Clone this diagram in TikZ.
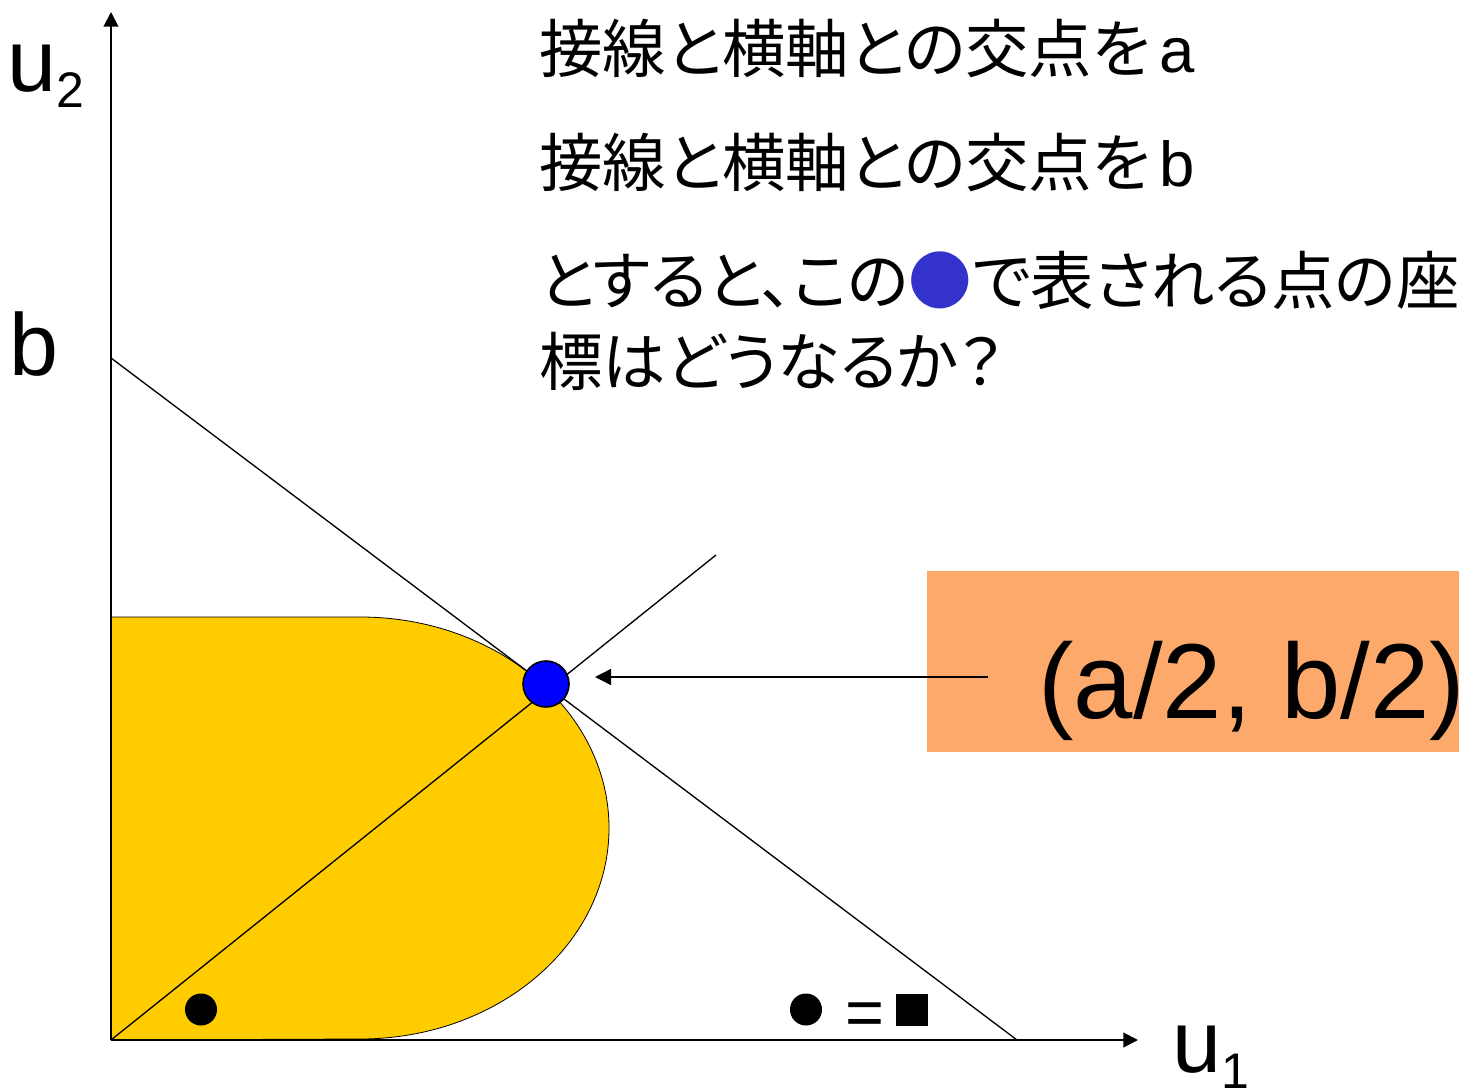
\documentclass[tikz,border=0pt]{standalone}
\usepackage{fontspec}
\setmainfont{Liberation Sans}
\newfontfamily\cjk[RawFeature=+palt]{Noto Sans CJK JP}
\usetikzlibrary{arrows.meta}
\definecolor{goldfill}{HTML}{FFCC00}
\definecolor{orangebox}{HTML}{FDA96C}
\definecolor{dotblue}{HTML}{0000FF}
\definecolor{textblue}{HTML}{3333CC}
\begin{document}
\begin{tikzpicture}[x=0.75pt,y=0.75pt,
  axis/.style={line width=1.5pt,-{Triangle[length=11pt,width=11pt]}},
  thinline/.style={line width=1pt},
  jp/.style={font=\cjk\fontsize{47.6pt}{58pt}\selectfont, inner sep=0pt, anchor=west},
  biglabel/.style={font=\fontsize{66pt}{70pt}\selectfont, inner sep=0pt, anchor=base west},
  blackdot/.style={circle, fill=black, minimum size=24pt, inner sep=0pt},
]
\useasboundingbox (0,0) rectangle (1459,1090);
% key points
\coordinate (O) at (111,50);
\coordinate (ytop) at (111,1078);
\coordinate (xend) at (1138,50);
\coordinate (tb) at (111,732);
\coordinate (ta) at (1017,50);
\coordinate (dend) at (716,535);
% feasible region
\filldraw[fill=goldfill, draw=black, line width=0.6pt]
  (111,50) -- (111,473) -- (360,473)
  arc[start angle=90, end angle=-90, x radius=249, y radius=211] -- cycle;
% axes
\draw[axis] (O) -- (ytop);
\draw[axis] (O) -- (xend);
% tangent line and diagonal
\draw[thinline] (tb) -- (ta);
\draw[thinline] (O) -- (dend);
% point
\node[circle, fill=dotblue, draw=black, line width=1.2pt, minimum size=34.5pt, inner sep=0pt] (P) at (546,406) {};
% orange box
\node[fill=orangebox, minimum width=399pt, minimum height=135.75pt, anchor=south west, inner sep=0pt] (box) at (927,338) {};
\node[anchor=base west, inner sep=0pt, font=\fontsize{80pt}{90pt}\selectfont] (coord) at (1038,372) {(a/2, b/2)};
% arrow
\coordinate (arrS) at (988,413);
\coordinate (arrT) at (595,413);
\draw[line width=1.1pt, -{Triangle[length=12pt,width=12pt]}] (arrS) -- (arrT);
% axis labels
\node[biglabel] (u2) at (7,998) {u\raisebox{-12pt}{\fontsize{37.5pt}{40pt}\selectfont 2}};
\node[biglabel] (blab) at (9,714) {b};
\node[biglabel] (u1) at (1172,18) {u\raisebox{-12pt}{\fontsize{37.5pt}{40pt}\selectfont 1}};
% bottom markers
\node[blackdot] (d1) at (201,80.5) {};
\node[blackdot] (d2) at (806,80.5) {};
\node[anchor=base, inner sep=0pt, font=\fontsize{50pt}{55pt}\selectfont] (eq) at (864.5,55) {=};
\node[fill=black, minimum size=24pt, inner sep=0pt] (sq) at (912,80.5) {};
% texts
\node[jp] (t1) at (539,1042) {接線と横軸との交点を\hspace{6pt}{\rmfamily a}};
\node[jp] (t2) at (539,928) {接線と横軸との交点を\hspace{6pt}{\rmfamily b}};
\node[jp] (t3) at (539,810) {とすると、この{\color{textblue}●}で表される点の座};
\node[jp] (t4) at (539,729) {標はどうなるか？};
\end{tikzpicture}
\end{document}
